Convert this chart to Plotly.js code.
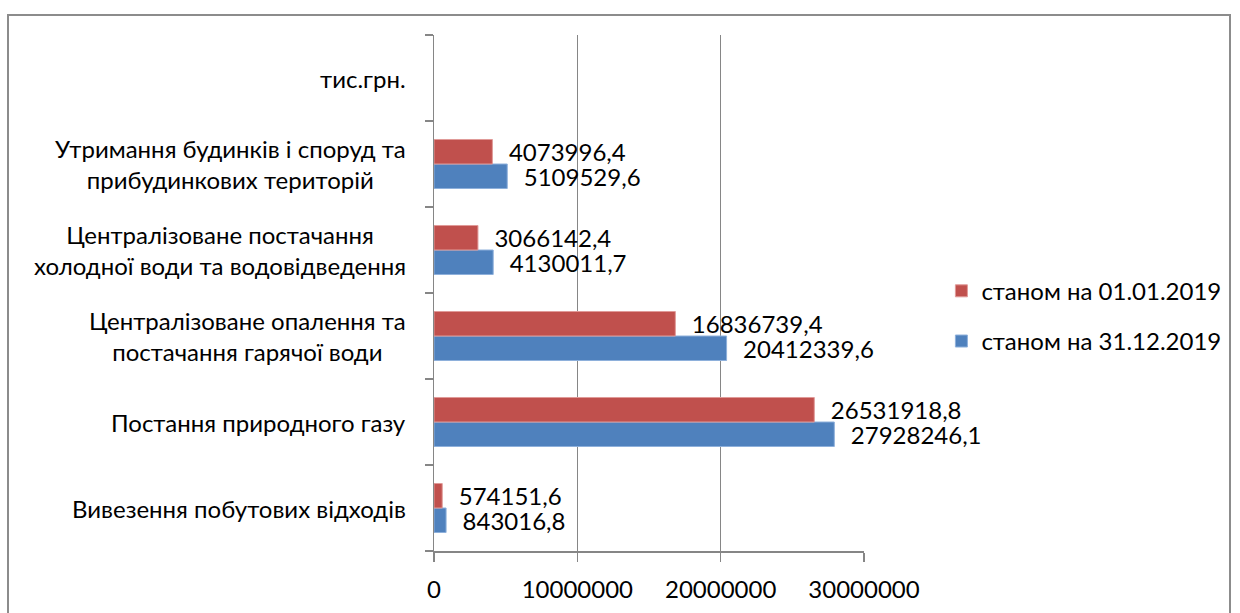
<!DOCTYPE html>
<html>
<head>
<meta charset="utf-8">
<script src="https://cdn.plot.ly/plotly-3.0.1.min.js"></script>
<style>
html,body{margin:0;padding:0;background:#fff;}
#frame{position:absolute;left:7px;top:14px;width:1224px;height:640px;border:2px solid #8c8c8c;box-sizing:border-box;}
#chart{position:absolute;left:0;top:0;width:1240px;height:613px;}
</style>
</head>
<body>
<div id="frame"></div>
<div id="chart"></div>
<script>
// Categories (bottom to top)
const categories = [
  'Вивезення побутових відходів',
  'Постання природного газу',
  'Централізоване опалення та постачання гарячої води',
  'Централізоване постачання холодної води та водовідведення',
  'Утримання будинків і споруд та прибудинкових територій',
  'тис.грн.'
];
const categoryLabels = [
  'Вивезення побутових відходів',
  'Постання природного газу',
  'Централізоване опалення та<br>постачання гарячої води',
  'Централізоване постачання<br>холодної води та водовідведення',
  'Утримання будинків і споруд та<br>прибудинкових територій',
  'тис.грн.'
];
const seriesNames = ['станом на 01.01.2019', 'станом на 31.12.2019'];
const values0101 = [574151.6, 26531918.8, 16836739.4, 3066142.4, 4073996.4, null];
const values3112 = [843016.8, 27928246.1, 20412339.6, 4130011.7, 5109529.6, null];
const xTickVals = [0, 10000000, 20000000, 30000000];
const xTickText = ['0', '10000000', '20000000', '30000000'];

const FONT = 'Lato, "Open Sans", sans-serif';
const FS = 24;
const LABEL_PAD = '\u2002\u200A';
const fmt = v => (v === null ? '' : LABEL_PAD + v.toFixed(1).replace('.', ','));

const traceBlue = {
  type: 'bar', orientation: 'h', name: seriesNames[1], legendgroup: 'b', legendrank: 2,
  y: categories, x: values3112,
  text: values3112.map(fmt), textposition: 'outside', cliponaxis: false,
  constraintext: 'none', textfont: {family: FONT, size: FS, color: '#000'},
  marker: {color: '#4F81BD', line: {color: '#8eb0db', width: 1}},
  hoverinfo: 'x+name'
};
const traceRed = {
  type: 'bar', orientation: 'h', name: seriesNames[0], legendgroup: 'a', legendrank: 1,
  y: categories, x: values0101,
  text: values0101.map(fmt), textposition: 'outside', cliponaxis: false,
  constraintext: 'none', textfont: {family: FONT, size: FS, color: '#000'},
  marker: {color: '#C0504D', line: {color: '#e09a98', width: 1}},
  hoverinfo: 'x+name'
};

const annotations = categories.map((c, i) => ({
  xref: 'paper', yref: 'y', x: -0.06, y: c, xanchor: 'right', yanchor: 'middle',
  text: categoryLabels[i], showarrow: false, align: 'center',
  font: {family: FONT, size: FS, color: '#000'}
}));

const layout = {
  width: 1240, height: 613,
  margin: {l: 434, r: 376, t: 35, b: 62},
  paper_bgcolor: 'rgba(0,0,0,0)', plot_bgcolor: 'rgba(0,0,0,0)',
  barmode: 'group', bargap: 0.43, bargroupgap: 0,
  font: {family: FONT, size: FS, color: '#000'},
  xaxis: {
    range: [0, 30000000], tickvals: xTickVals, ticktext: xTickText,
    showgrid: true, gridcolor: '#868686', gridwidth: 1.5,
    showline: true, linecolor: '#868686', linewidth: 1.5,
    ticks: 'outside', ticklen: 9, tickcolor: '#868686', tickwidth: 1.5,
    ticklabelstandoff: 8,
    zeroline: false, fixedrange: true,
    tickfont: {family: FONT, size: FS, color: '#000'}
  },
  yaxis: {
    type: 'category', categoryorder: 'array', categoryarray: categories,
    range: [-0.5, categories.length - 0.5],
    showticklabels: false, showgrid: false, zeroline: false,
    showline: true, linecolor: '#868686', linewidth: 1.5,
    ticks: 'outside', tickson: 'boundaries', ticklen: 8, tickcolor: '#868686', tickwidth: 1.5,
    fixedrange: true
  },
  legend: {
    x: 1.18, xanchor: 'left', y: 0.455, yanchor: 'middle',
    traceorder: 'grouped', tracegroupgap: 16, itemwidth: 30,
    font: {family: FONT, size: FS, color: '#000'}, bgcolor: 'rgba(0,0,0,0)'
  },
  showlegend: true,
  annotations: annotations
};

Plotly.newPlot('chart', [traceBlue, traceRed], layout, {displayModeBar: false, staticPlot: true});
</script>
</body>
</html>
